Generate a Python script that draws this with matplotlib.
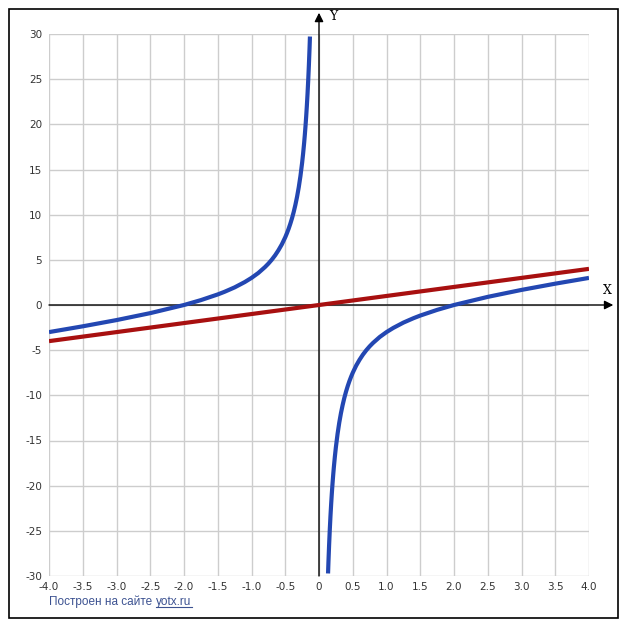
"""
Graph of y = x - 4/x together with y = x, in the yotx.ru style
"""

import matplotlib
matplotlib.use("Agg")
import matplotlib.pyplot as plt
from matplotlib.patches import Rectangle

W, H = 627, 630

# left branch of the hyperbola
left_x = [-4.0, -3.5, -3.0, -2.5, -2.0, -1.75, -1.5, -1.4, -1.25, -1.1,
          -1.0, -0.9, -0.8, -0.75, -0.7, -0.65, -0.6, -0.55, -0.5, -0.475,
          -0.45, -0.425, -0.4, -0.375, -0.35, -0.325, -0.3, -0.275, -0.25, -0.235,
          -0.22, -0.21, -0.2, -0.19, -0.18, -0.17, -0.16, -0.15, -0.14, -0.134]
left_y = [-3.0, -2.36, -1.67, -0.9, 0.0, 0.54, 1.17, 1.46, 1.95, 2.54,
          3.0, 3.54, 4.2, 4.58, 5.01, 5.5, 6.07, 6.72, 7.5, 7.95,
          8.44, 8.99, 9.6, 10.29, 11.08, 11.98, 13.03, 14.27, 15.75, 16.79,
          17.96, 18.84, 19.8, 20.86, 22.04, 23.36, 24.84, 26.52, 28.43, 29.72]

# right branch
right_x = [0.134, 0.14, 0.15, 0.16, 0.17, 0.18, 0.19, 0.2, 0.21, 0.22,
           0.235, 0.25, 0.275, 0.3, 0.325, 0.35, 0.375, 0.4, 0.425, 0.45,
           0.475, 0.5, 0.55, 0.6, 0.65, 0.7, 0.75, 0.8, 0.9, 1.0,
           1.1, 1.25, 1.4, 1.5, 1.75, 2.0, 2.5, 3.0, 3.5, 4.0]
right_y = [-29.72, -28.43, -26.52, -24.84, -23.36, -22.04, -20.86, -19.8, -18.84, -17.96,
           -16.79, -15.75, -14.27, -13.03, -11.98, -11.08, -10.29, -9.6, -8.99, -8.44,
           -7.95, -7.5, -6.72, -6.07, -5.5, -5.01, -4.58, -4.2, -3.54, -3.0,
           -2.54, -1.95, -1.46, -1.17, -0.54, 0.0, 0.9, 1.67, 2.36, 3.0]

# straight line y = x
line_x = [-4.0, 4.0]
line_y = [-4.0, 4.0]

x_ticks = [-4.0, -3.5, -3.0, -2.5, -2.0, -1.5, -1.0, -0.5, 0.0,
           0.5, 1.0, 1.5, 2.0, 2.5, 3.0, 3.5, 4.0]
x_labels = ["-4.0", "-3.5", "-3.0", "-2.5", "-2.0", "-1.5", "-1.0", "-0.5", "0",
            "0.5", "1.0", "1.5", "2.0", "2.5", "3.0", "3.5", "4.0"]
y_ticks = [-30, -25, -20, -15, -10, -5, 0, 5, 10, 15, 20, 25, 30]
y_labels = [str(v) for v in y_ticks]

BLUE = "#2347b2"
RED = "#a81010"
GRID = "#cdcdcd"
LINK = "#3c5291"


def main():
    fig = plt.figure(figsize=(W / 100, H / 100), dpi=100)
    fig.patch.set_facecolor("white")

    # plot area in pixels: x 49..589, y 34..576
    ax = fig.add_axes([49 / W, (H - 576) / H, 540 / W, 542 / H])
    ax.set_xlim(-4, 4)
    ax.set_ylim(-30, 30)
    for s in ax.spines.values():
        s.set_visible(False)

    ax.set_xticks(x_ticks)
    ax.set_xticklabels(x_labels)
    ax.set_yticks(y_ticks)
    ax.set_yticklabels(y_labels)
    ax.tick_params(length=0, labelsize=7.5, labelcolor="#333333", pad=4)
    ax.tick_params(axis="y", pad=5)
    ax.grid(True, color=GRID, lw=1, zorder=0)
    ax.set_axisbelow(True)

    # axes with arrows
    ax.annotate("", xy=(4.36, 0), xytext=(-4, 0),
                arrowprops=dict(arrowstyle="-|>", color="black", lw=1,
                                mutation_scale=13, shrinkA=0, shrinkB=0),
                annotation_clip=False, zorder=2)
    ax.annotate("", xy=(0, 32.35), xytext=(0, -30),
                arrowprops=dict(arrowstyle="-|>", color="black", lw=1,
                                mutation_scale=13, shrinkA=0, shrinkB=0),
                annotation_clip=False, zorder=2)

    ax.plot(line_x, line_y, color=RED, lw=3, solid_capstyle="butt", zorder=3)
    for xs, ys in ((left_x, left_y), (right_x, right_y)):
        ax.plot(xs, ys, color=BLUE, lw=3, solid_capstyle="butt",
                solid_joinstyle="round", zorder=4)

    fig.text(607 / W, (H - 291) / H, "X", family="DejaVu Serif", fontsize=9,
             ha="center", va="center")
    fig.text(333 / W, (H - 16) / H, "Y", family="DejaVu Serif", fontsize=9,
             ha="center", va="center")

    # footer
    t1 = fig.text(49 / W, (H - 602) / H, "Построен на сайте", fontsize=8.5,
                  family="Liberation Sans", color=LINK, ha="left", va="center")
    fig.canvas.draw()
    bb = t1.get_window_extent()
    t2 = fig.text((bb.x1 + 4) / W, (H - 602) / H, "yotx.ru", fontsize=8.5,
                  family="Liberation Sans", color=LINK, ha="left", va="center")
    fig.canvas.draw()
    bb2 = t2.get_window_extent()
    uy = (bb2.y0 + 1) / H
    fig.add_artist(plt.Line2D([bb2.x0 / W, bb2.x1 / W], [uy, uy],
                              color=LINK, lw=0.8))

    # outer frame
    fig.add_artist(Rectangle((9 / W, (H - 618) / H), 609 / W, 609 / H,
                             fill=False, lw=1.2, edgecolor="black",
                             transform=fig.transFigure))

    fig.savefig("out.png", dpi=100)
    return 0


if __name__ == "__main__":
    main()
